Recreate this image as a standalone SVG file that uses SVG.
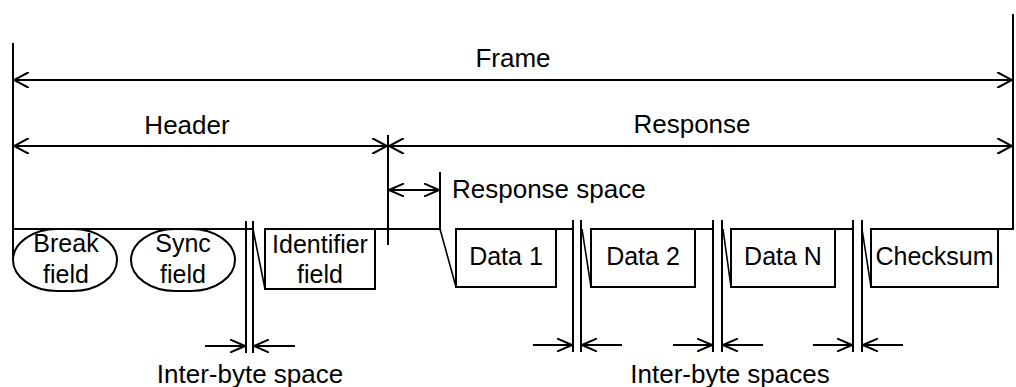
<svg xmlns="http://www.w3.org/2000/svg" width="1016" height="387" viewBox="0 0 1016 387">
<style>
.ln{stroke:#000;stroke-width:2;fill:none;stroke-linecap:butt}
.thin{stroke:#000;stroke-width:1.6;fill:none}
.box{stroke:#000;stroke-width:2;fill:#fff}
.lbl{font-family:"Liberation Sans",Arial,sans-serif;font-size:26px;fill:#000;text-anchor:middle}
.txt{font-family:"Liberation Sans",Arial,sans-serif;font-size:25px;fill:#000;text-anchor:middle}
</style>
<defs>
<marker id="ah" viewBox="0 0 16 16" refX="15" refY="8" markerWidth="16" markerHeight="16" markerUnits="userSpaceOnUse" orient="auto-start-reverse">
<path d="M0,0 L15,8 L0,16" fill="none" stroke="#000" stroke-width="2"/>
</marker>
<marker id="ahs" viewBox="0 0 16 14" refX="15" refY="7" markerWidth="16" markerHeight="14" markerUnits="userSpaceOnUse" orient="auto-start-reverse">
<path d="M0,0.5 L15,7 L0,13.5" fill="none" stroke="#000" stroke-width="2"/>
</marker>
</defs>
<rect width="1016" height="387" fill="#fff"/>

<g id="connectors">
  <!-- extension lines -->
  <line class="ln" x1="13" y1="43" x2="13" y2="258"/>
  <line class="ln" x1="1013" y1="14" x2="1013" y2="230"/>
  <line class="ln" x1="388" y1="135" x2="388" y2="245"/>
  <line class="ln" x1="440" y1="172" x2="440" y2="230"/>
  <!-- dimension arrows -->
  <line class="ln" x1="14" y1="80" x2="1012" y2="80" marker-start="url(#ah)" marker-end="url(#ah)"/>
  <line class="ln" x1="14" y1="146" x2="387" y2="146" marker-start="url(#ah)" marker-end="url(#ah)"/>
  <line class="ln" x1="389" y1="146" x2="1012" y2="146" marker-start="url(#ah)" marker-end="url(#ah)"/>
  <line class="ln" x1="389" y1="190" x2="439" y2="190" marker-start="url(#ahs)" marker-end="url(#ahs)"/>
  <!-- signal line -->
  <line class="ln" x1="13" y1="229" x2="253" y2="229"/>
  <line class="thin" x1="253" y1="229" x2="265" y2="289"/>
  <line class="ln" x1="375" y1="229" x2="440" y2="229"/>
  <line class="thin" x1="440" y1="229" x2="456" y2="287"/>
  <line class="ln" x1="556" y1="229" x2="573" y2="229"/>
  <line class="thin" x1="582" y1="229" x2="591" y2="287"/>
  <line class="ln" x1="695" y1="229" x2="713" y2="229"/>
  <line class="thin" x1="723" y1="229" x2="731" y2="287"/>
  <line class="ln" x1="835" y1="229" x2="853" y2="229"/>
  <line class="thin" x1="862" y1="229" x2="871" y2="287"/>
  <line class="ln" x1="998" y1="229" x2="1013" y2="229"/>
  <!-- inter-byte space markers -->
  <line class="ln" x1="246" y1="221" x2="246" y2="353"/>
  <line class="ln" x1="253" y1="221" x2="253" y2="353"/>
  <line class="ln" x1="205" y1="346" x2="245" y2="346" marker-end="url(#ahs)"/>
  <line class="ln" x1="295" y1="346" x2="254" y2="346" marker-end="url(#ahs)"/>

  <line class="ln" x1="573" y1="220" x2="573" y2="352"/>
  <line class="ln" x1="581" y1="220" x2="581" y2="352"/>
  <line class="ln" x1="533" y1="345" x2="572" y2="345" marker-end="url(#ahs)"/>
  <line class="ln" x1="622" y1="345" x2="582" y2="345" marker-end="url(#ahs)"/>

  <line class="ln" x1="713" y1="220" x2="713" y2="352"/>
  <line class="ln" x1="722" y1="220" x2="722" y2="352"/>
  <line class="ln" x1="673" y1="345" x2="712" y2="345" marker-end="url(#ahs)"/>
  <line class="ln" x1="763" y1="345" x2="723" y2="345" marker-end="url(#ahs)"/>

  <line class="ln" x1="853" y1="220" x2="853" y2="352"/>
  <line class="ln" x1="862" y1="220" x2="862" y2="352"/>
  <line class="ln" x1="813" y1="345" x2="852" y2="345" marker-end="url(#ahs)"/>
  <line class="ln" x1="903" y1="345" x2="863" y2="345" marker-end="url(#ahs)"/>
</g>

<g id="break">
  <rect class="box" x="13" y="229" width="104" height="62" rx="44" ry="31"/>
  <text class="txt" x="66" y="252">Break</text>
  <text class="txt" x="66" y="283">field</text>
</g>
<g id="sync">
  <rect class="box" x="131" y="229" width="104" height="62" rx="44" ry="31"/>
  <text class="txt" x="183" y="252">Sync</text>
  <text class="txt" x="183" y="283">field</text>
</g>
<g id="identifier">
  <rect class="box" x="265" y="229" width="110" height="60"/>
  <text class="txt" x="320" y="253">Identifier</text>
  <text class="txt" x="320" y="283">field</text>
</g>
<g id="data1">
  <rect class="box" x="456" y="229" width="100" height="58"/>
  <text class="txt" x="506" y="265">Data 1</text>
</g>
<g id="data2">
  <rect class="box" x="591" y="229" width="104" height="58"/>
  <text class="txt" x="643" y="265">Data 2</text>
</g>
<g id="dataN">
  <rect class="box" x="731" y="229" width="104" height="58"/>
  <text class="txt" x="783" y="265">Data N</text>
</g>
<g id="checksum">
  <rect class="box" x="871" y="229" width="127" height="58"/>
  <text class="txt" x="934.5" y="265">Checksum</text>
</g>

<g id="labels">
  <text class="lbl" x="513" y="67">Frame</text>
  <text class="lbl" x="187" y="134">Header</text>
  <text class="lbl" x="692" y="133">Response</text>
  <text class="lbl" x="452" y="198" style="text-anchor:start">Response space</text>
  <text class="lbl" x="250" y="383">Inter-byte space</text>
  <text class="lbl" x="730" y="383">Inter-byte spaces</text>
</g>
</svg>
